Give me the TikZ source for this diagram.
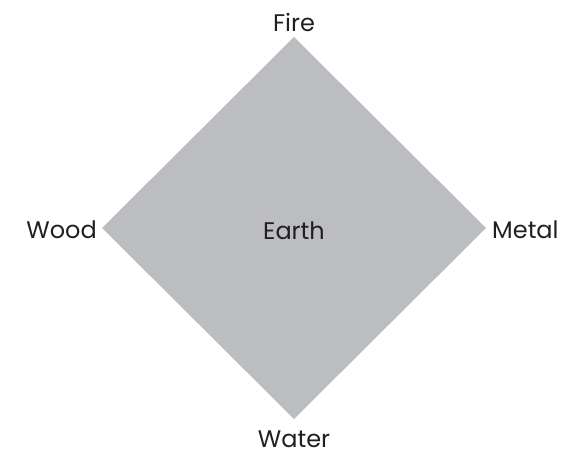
\documentclass[tikz,border=0pt]{standalone}
\usepackage{fontspec}
\setmainfont{Poppins}
\definecolor{diamondgray}{HTML}{BCBDC0}
\definecolor{labelink}{HTML}{231F20}
\begin{document}
\begin{tikzpicture}[x=1pt,y=-1pt,
  lbl/.style={font=\fontsize{24}{28}\selectfont, text=labelink, inner sep=0pt}]
\useasboundingbox (0,0) rectangle (564,454);
\coordinate (top) at (294,37);
\coordinate (left) at (102,228);
\coordinate (right) at (486,228);
\coordinate (bottom) at (294,419);
\fill[diamondgray] (top) -- (right) -- (bottom) -- (left) -- cycle;
\node[lbl, anchor=base] (fire) at (294,32) {Fire};
\node[lbl, anchor=base east] (wood) at (97,238) {Wood};
\node[lbl, anchor=base west] (metal) at (492,238) {Metal};
\node[lbl, anchor=base] (water) at (294,447) {Water};
\node[lbl, anchor=base] (earth) at (294,240) {Earth};
\end{tikzpicture}
\end{document}
